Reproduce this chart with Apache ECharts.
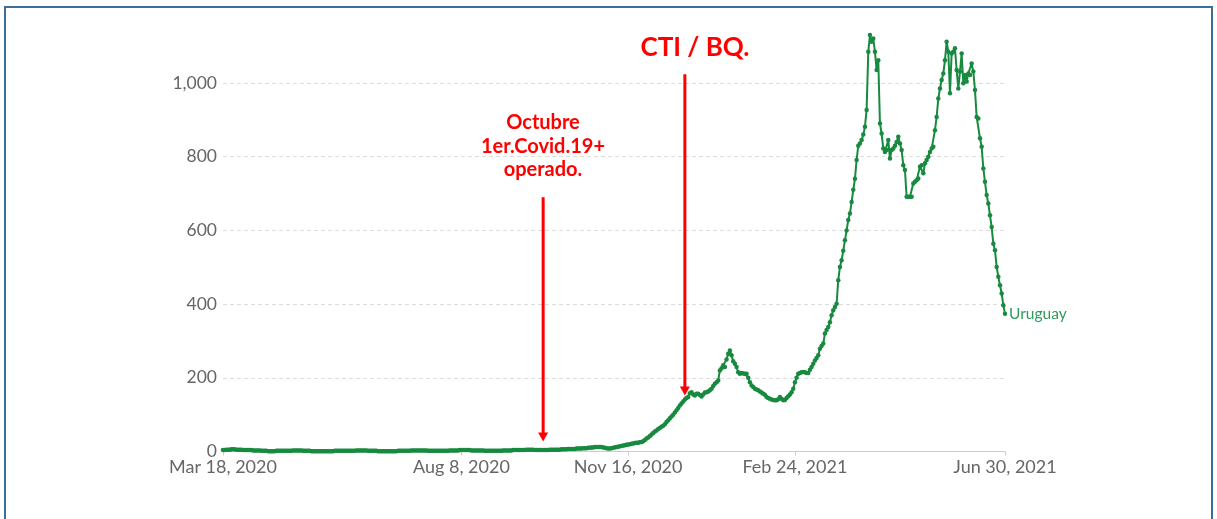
<!DOCTYPE html>
<html><head><meta charset="utf-8">
<script src="https://cdn.jsdelivr.net/npm/echarts/dist/echarts.min.js"></script>
<style>html,body{margin:0;padding:0;background:#fff}#c{width:1217px;height:519px}</style>
</head><body><div id="c"></div>
<script>
// ---- data ----
const startDate = '2020-03-18';
const dayCount = 470;
const tickDates = ['2020-03-18', '2020-08-08', '2020-11-16', '2021-02-24', '2021-06-30'];
const tickLabels = ['Mar 18, 2020', 'Aug 8, 2020', 'Nov 16, 2020', 'Feb 24, 2021', 'Jun 30, 2021'];
const yTickValues = [0, 200, 400, 600, 800, 1000];
const seriesName = 'Uruguay';

// Mar 18 2020 – Oct 3 2020
const valuesEarly = [
  4,4,5,5,5,6,6,6,5,5,5,5,4,4,4,4,4,4,3,3,
  3,3,3,2,2,2,2,1,1,1,1,1,2,2,2,2,2,2,2,2,
  2,2,3,3,3,3,3,3,2,2,2,2,2,1,1,1,1,1,1,1,
  1,1,1,1,1,1,1,2,2,2,2,2,2,2,2,2,2,2,2,2,
  3,3,3,3,3,3,3,2,2,2,2,2,2,1,1,1,1,1,1,1,
  1,1,1,1,1,2,2,2,2,2,2,2,2,3,3,3,3,3,3,3,
  3,3,3,2,2,2,2,2,2,2,2,2,2,2,2,2,3,3,3,3,
  3,3,4,4,4,4,4,4,4,3,3,3,3,3,3,3,3,2,2,2,
  2,2,2,2,2,2,2,2,3,3,3,3,3,3,4,4,4,4,4,4,
  4,4,5,5,5,5,5,4,4,4,4,4,4,4,4,4,5,5,5,5
];
// Oct 4 2020 – Dec 22 2020
const valuesRise = [
  5,5,5,6,6,6,6,7,7,7,
  7,7,8,8,8,8,9,9,9,10,
  10,11,11,12,12,12,12,12,11,10,
  9,8,8,9,10,11,12,13,14,15,
  16,17,18,19,20,21,22,23,24,24,
  25,26,28,31,35,38,42,46,50,54,
  57,61,64,67,70,74,80,85,90,95,
  100,106,112,118,125,130,136,141,145,148
];
// Dec 23 2020 – Jun 30 2021
const valuesWaves = [
  158,161,155,152,157,157,153,149,155,160,
  161,163,166,170,178,184,188,193,220,226,
  234,229,250,265,274,261,245,238,229,215,
  211,213,212,211,211,200,188,179,175,170,
  168,166,163,160,157,154,148,145,143,141,
  140,139,139,142,148,143,139,140,145,150,
  155,161,170,188,200,211,213,215,216,215,
  213,213,222,229,238,247,254,261,279,286,
  293,320,330,338,351,370,383,392,401,465,
  501,519,545,573,600,628,646,677,710,740,
  791,830,836,845,860,881,927,1085,1130,1112,
  1121,1085,1035,1062,890,863,822,813,818,845,
  795,818,822,830,840,854,836,818,777,764,
  691,691,691,691,727,732,736,741,773,777,
  755,782,791,800,813,822,827,872,908,958,
  985,1008,1026,1062,1112,1085,972,1080,1085,1094,
  1035,985,1031,1080,999,1022,1004,1026,1022,1053,
  1031,981,908,904,850,827,768,732,696,673,
  641,609,564,546,501,474,451,429,397,374
];

// annotations: [date, fromValue, toValue]
const arrowOctubre = ['2020-09-26', 690, 27];
const arrowCti = ['2020-12-20', 1024, 152];
const textOctubre = ['Octubre', '1er.Covid.19+', 'operado.'];
const textCti = 'CTI / BQ.';

// ---- build ----
const dates = [];
const t0 = Date.parse(startDate + 'T00:00:00Z');
for (let i = 0; i < dayCount; i++) dates.push(new Date(t0 + i * 86400000).toISOString().slice(0, 10));
const values = valuesEarly.concat(valuesRise, valuesWaves);

const isTick = (idx, val) => tickDates.indexOf(val) >= 0;
const green = '#178a3f';
const red = '#ff0000';

const chart = echarts.init(document.getElementById('c'), null, {renderer: 'canvas'});
chart.setOption({
  animation: false,
  backgroundColor: '#ffffff',
  grid: {left: 223, right: 212, top: 83, bottom: 67.5, containLabel: false},
  xAxis: {
    type: 'category',
    data: dates,
    boundaryGap: false,
    axisLine: {lineStyle: {color: '#cccccc', width: 1}},
    axisTick: {show: true, interval: isTick, length: 4, lineStyle: {color: '#cccccc'}},
    axisLabel: {
      interval: isTick,
      margin: 7,
      color: '#666666',
      fontFamily: 'Lato',
      fontSize: 18,
      formatter: v => tickLabels[tickDates.indexOf(v)] || ''
    },
    splitLine: {show: false}
  },
  yAxis: {
    type: 'value',
    min: 0, max: 1000, interval: 200,
    axisLine: {show: false},
    axisTick: {show: false},
    axisLabel: {
      margin: 6,
      color: '#666666',
      fontFamily: 'Lato',
      fontSize: 17.5,
      formatter: v => yTickValues.indexOf(v) >= 0 ? v.toLocaleString('en-US') : ''
    },
    splitLine: {show: true, lineStyle: {color: '#dddddd', type: [4, 3], width: 1}}
  },
  series: [{
    name: seriesName,
    type: 'line',
    data: values,
    clip: false,
    showSymbol: true,
    showAllSymbol: true,
    symbol: 'circle',
    symbolSize: 4.5,
    itemStyle: {color: green},
    lineStyle: {color: green, width: 2},
    endLabel: {
      show: true,
      formatter: seriesName,
      color: '#2e9a5a',
      fontFamily: 'Lato',
      fontSize: 15.5,
      distance: 4
    }
  }]
});

function arrowGraphics(a) {
  const p0 = chart.convertToPixel({gridIndex: 0}, [a[0], a[1]]);
  const p1 = chart.convertToPixel({gridIndex: 0}, [a[0], a[2]]);
  const head = 9;
  return [
    {type: 'line', silent: true, shape: {x1: p0[0], y1: p0[1], x2: p1[0], y2: p1[1] - head + 1},
     style: {stroke: red, lineWidth: 3}},
    {type: 'polygon', silent: true, shape: {points: [[p1[0] - 5, p1[1] - head], [p1[0] + 5, p1[1] - head], [p1[0], p1[1]]]},
     style: {fill: red}}
  ];
}
const textStyle = (t, size) => ({text: t, fill: red, fontFamily: 'Lato', fontWeight: 'bold', fontSize: size, textAlign: 'center', textVerticalAlign: 'middle'});

chart.setOption({
  graphic: [
    {type: 'rect', z: -1, silent: true, shape: {x: 5, y: 7, width: 1207, height: 540},
     style: {fill: 'none', stroke: '#3d6e98', lineWidth: 2}},
    {type: 'text', x: 695, y: 48, style: textStyle(textCti, 26)},
    {type: 'text', x: 543, y: 123, style: textStyle(textOctubre[0], 20)},
    {type: 'text', x: 543, y: 147, style: textStyle(textOctubre[1], 20)},
    {type: 'text', x: 543, y: 170, style: textStyle(textOctubre[2], 20)}
  ].concat(arrowGraphics(arrowOctubre), arrowGraphics(arrowCti))
});
</script>
</body></html>
